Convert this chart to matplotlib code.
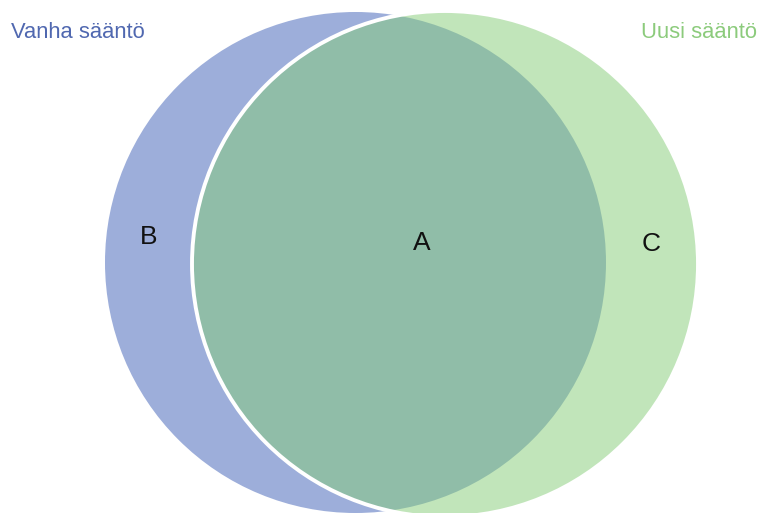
import matplotlib
matplotlib.use("Agg")
import matplotlib.pyplot as plt
from matplotlib.patches import Circle

# Data
set_names = ["Vanha sääntö", "Uusi sääntö"]
region_labels = ["B", "A", "C"]
# circle geometry (pixel coordinates of the 768x513 canvas): cx, cy, r
circle_old = (355.5, 262.5, 250.5)
circle_new = (445.0, 264.0, 253.0)

plt.rcParams['font.family'] = ['Liberation Sans', 'DejaVu Sans']

fig = plt.figure(figsize=(7.68, 5.13), dpi=100)
ax = fig.add_axes([0, 0, 1, 1])
ax.set_xlim(0, 768)
ax.set_ylim(513, 0)
ax.set_aspect('equal')
ax.axis('off')

blue = (157/255, 174/255, 218/255)
green = (133/255, 205/255, 119/255)

ax.add_patch(Circle(circle_old[:2], circle_old[2], facecolor=blue, edgecolor='none', zorder=1))
ax.add_patch(Circle(circle_new[:2], circle_new[2], facecolor=green, alpha=0.5, edgecolor='none', zorder=2))
ax.add_patch(Circle(circle_new[:2], circle_new[2], facecolor='none', edgecolor='white', linewidth=2.8, zorder=3))

ax.text(11, 32, set_names[0], color='#5068B0', fontsize=15.8, ha='left', va='center')
ax.text(757, 32, set_names[1], color='#8CCB7C', fontsize=15.8, ha='right', va='center')

label_pos = [(149, 237), (422, 243), (651, 244)]
for lab, (x, y) in zip(region_labels, label_pos):
    ax.text(x, y, lab, color='#111111', fontsize=19, ha='center', va='center', zorder=5)

fig.savefig("out.png", dpi=100)
